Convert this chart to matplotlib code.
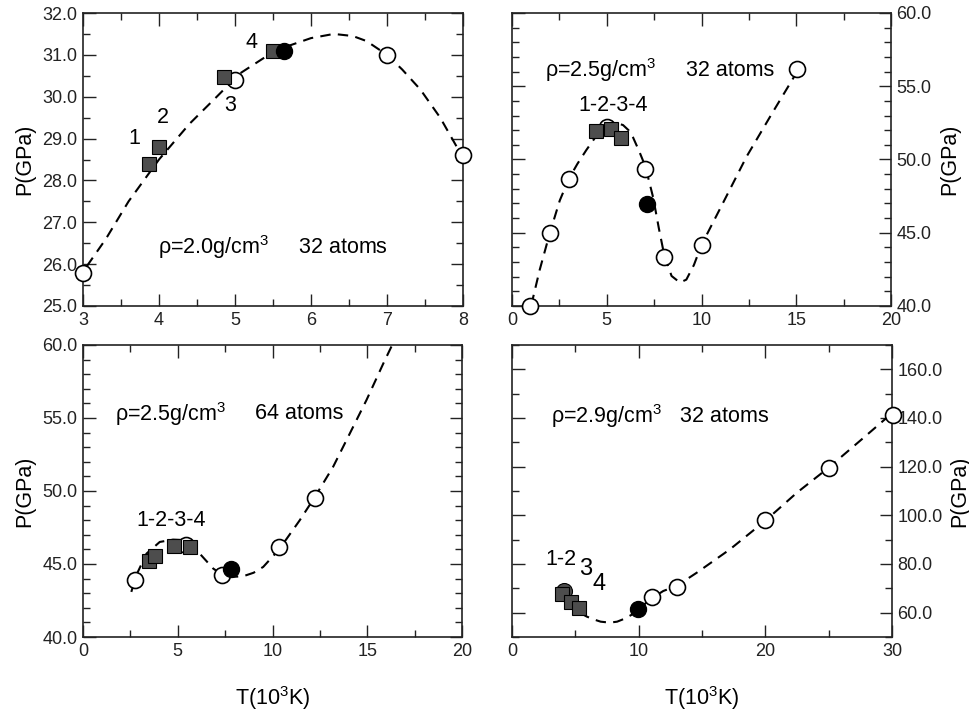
import numpy as np
import matplotlib.pyplot as plt
from matplotlib.ticker import MultipleLocator, FormatStrFormatter

plt.rcParams['font.family'] = ['Liberation Sans', 'DejaVu Sans']
plt.rcParams['mathtext.fontset'] = 'custom'
plt.rcParams['mathtext.rm'] = 'Liberation Sans'
plt.rcParams['mathtext.it'] = 'Liberation Sans'

# ---- panel a: rho=2.0, 32 atoms
a_open_T = [3.0, 5.0, 7.0, 8.0]
a_open_P = [25.8, 30.4, 31.0, 28.6]
a_sq_T = [3.87, 4.0, 4.85, 5.5]
a_sq_P = [28.4, 28.8, 30.47, 31.1]
a_fill_T = [5.65]
a_fill_P = [31.1]
a_fit_T = [3.05, 3.3, 3.6, 4.0, 4.4, 4.76, 5.06, 5.4, 5.68, 6.0, 6.3, 6.55, 6.73, 7.0, 7.2, 7.44, 7.7, 7.95]
a_fit_P = [25.95, 26.6, 27.5, 28.5, 29.35, 30.0, 30.55, 30.95, 31.2, 31.4, 31.5, 31.45, 31.33, 31.0, 30.65, 30.17, 29.5, 28.7]

# ---- panel b: rho=2.5, 32 atoms
b_open_T = [0.97, 2.0, 3.0, 5.0, 7.04, 8.03, 10.0, 15.05]
b_open_P = [40.0, 45.0, 48.7, 52.25, 49.36, 43.37, 44.17, 56.17]
b_sq_T = [4.45, 5.25, 5.74]
b_sq_P = [51.96, 52.07, 51.5]
b_fill_T = [7.15]
b_fill_P = [46.97]
b_fit_T = [1.02, 1.46, 2.0, 2.52, 3.0, 3.45, 3.93, 4.5, 5.02, 5.5, 5.86, 6.15, 6.39, 6.7, 7.04, 7.45, 7.75, 8.03, 8.42, 8.86, 9.2, 9.6, 10.0, 11.2, 12.38, 13.7, 15.05]
b_fit_P = [40.07, 42.46, 45.0, 47.2, 48.68, 49.7, 50.66, 51.7, 52.37, 52.5, 52.35, 52.0, 51.5, 50.6, 49.52, 47.4, 45.3, 43.5, 42.05, 41.6, 41.8, 42.8, 44.17, 47.2, 50.2, 53.1, 56.0]

# ---- panel c: rho=2.5, 64 atoms
c_open_T = [2.73, 5.46, 7.36, 10.35, 12.24]
c_open_P = [43.89, 46.29, 44.23, 46.17, 49.49]
c_sq_T = [3.47, 3.8, 4.81, 5.67]
c_sq_P = [45.21, 45.53, 46.22, 46.17]
c_fill_T = [7.83]
c_fill_P = [44.69]
c_fit_T = [2.55, 2.8, 3.35, 4.05, 4.75, 5.46, 6.16, 6.87, 7.3, 7.75, 8.45, 9.0, 9.51, 10.35, 11.44, 12.24, 13.2, 14.08, 14.96, 15.85, 16.5]
c_fit_P = [43.09, 44.2, 45.71, 46.51, 46.67, 46.63, 45.71, 44.69, 44.3, 44.11, 44.16, 44.4, 44.8, 46.0, 48.0, 49.6, 51.66, 53.94, 56.23, 58.74, 60.5]

# ---- panel d: rho=2.9, 32 atoms
d_open_T = [11.02, 13.0, 19.98, 25.0, 30.05]
d_open_P = [66.6, 70.5, 98.1, 119.6, 141.1]
d_grey_T = [4.09]
d_grey_P = [68.9]
d_sq_T = [3.98, 4.69, 5.25]
d_sq_P = [67.5, 64.4, 61.9]
d_fill_T = [9.97]
d_fill_P = [61.4]
d_fit_T = [5.35, 5.9, 6.41, 7.0, 7.72, 8.3, 8.78, 9.4, 9.97, 11.0, 11.94, 13.0, 14.58, 17.2, 19.98, 22.49, 25.0, 27.76, 30.05]
d_fit_P = [60.0, 58.4, 57.3, 56.3, 55.9, 56.3, 57.3, 59.0, 61.4, 65.8, 68.9, 71.0, 76.4, 86.0, 97.7, 109.3, 119.6, 131.9, 142.2]

W, H = 969, 719
fig = plt.figure(figsize=(W / 100, H / 100), dpi=100)


def box(l, t, r, b):
    return [l / W, 1 - b / H, (r - l) / W, (b - t) / H]


def setup(ax, xlim, ylim, xmaj, xmin, ymaj, ymin, right=False):
    ax.set_xlim(*xlim)
    ax.set_ylim(*ylim)
    ax.xaxis.set_major_locator(MultipleLocator(xmaj))
    ax.xaxis.set_minor_locator(MultipleLocator(xmin))
    ax.yaxis.set_major_locator(MultipleLocator(ymaj))
    ax.yaxis.set_minor_locator(MultipleLocator(ymin))
    ax.yaxis.set_major_formatter(FormatStrFormatter('%.1f'))
    ax.tick_params(which='both', direction='in', top=True, right=True, left=True,
                   labelsize=13, width=1.0, colors='#222222')
    ax.tick_params(which='major', length=9, pad=4)
    ax.tick_params(which='minor', length=5)
    if right:
        ax.tick_params(axis='y', labelleft=False, labelright=True)
        ax.yaxis.set_label_position('right')
    for s in ax.spines.values():
        s.set_linewidth(1.2)
        s.set_color('#222222')
    ax.set_ylabel('P(GPa)', fontsize=15.5, labelpad=5)


def draw(ax, fT, fP, oT, oP, sT, sP, cT, cP):
    ax.plot(fT, fP, '--', color='black', lw=1.5, dashes=(5, 3.5), zorder=2)
    ax.plot(oT, oP, 'o', ms=11.5, mfc='white', mec='black', mew=1.2, zorder=3, clip_on=False)
    ax.plot(sT, sP, 's', ms=10.5, mfc='#4d4d4d', mec='black', mew=0.8, zorder=4, clip_on=False)
    ax.plot(cT, cP, 'o', ms=11.5, mfc='black', mec='black', zorder=5, clip_on=False)


fs = 15.5

ax1 = fig.add_axes(box(83, 13, 463, 306))
setup(ax1, (3, 8), (25, 32), 1, 0.5, 1.0, 0.5)
draw(ax1, a_fit_T, a_fit_P, a_open_T, a_open_P, a_sq_T, a_sq_P, a_fill_T, a_fill_P)
ax1.text(3.68, 29.0, '1', fontsize=fs, ha='center', va='center')
ax1.text(4.05, 29.5, '2', fontsize=fs, ha='center', va='center')
ax1.text(4.93, 29.8, '3', fontsize=fs, ha='center', va='center')
ax1.text(5.22, 31.3, '4', fontsize=fs, ha='center', va='center')
ax1.text(3.99, 26.4, 'ρ=2.0g/cm$^3$     32 atoms', fontsize=fs, ha='left', va='center')

ax2 = fig.add_axes(box(512, 13, 891, 306))
setup(ax2, (0, 20), (40, 60), 5, 2.5, 5.0, 1.0, right=True)
draw(ax2, b_fit_T, b_fit_P, b_open_T, b_open_P, b_sq_T, b_sq_P, b_fill_T, b_fill_P)
ax2.text(1.72, 56.1, 'ρ=2.5g/cm$^3$', fontsize=fs, ha='left', va='center')
ax2.text(9.2, 56.1, '32 atoms', fontsize=fs, ha='left', va='center')
ax2.text(5.33, 53.67, '1-2-3-4', fontsize=fs, ha='center', va='center')

ax3 = fig.add_axes(box(83, 345, 462, 637))
setup(ax3, (0, 20), (40, 60), 5, 2.5, 5.0, 1.0)
draw(ax3, c_fit_T, c_fit_P, c_open_T, c_open_P, c_sq_T, c_sq_P, c_fill_T, c_fill_P)
ax3.text(1.67, 55.3, 'ρ=2.5g/cm$^3$', fontsize=fs, ha='left', va='center')
ax3.text(9.07, 55.3, '64 atoms', fontsize=fs, ha='left', va='center')
ax3.text(4.67, 48.0, '1-2-3-4', fontsize=fs, ha='center', va='center')
ax3.set_xlabel('T(10$^3$K)', fontsize=15.5, labelpad=18)

ax4 = fig.add_axes(box(512, 345, 892, 637))
setup(ax4, (0, 30), (50, 170), 10, 5, 20.0, 10.0, right=True)
ax4.plot(d_grey_T, d_grey_P, 'o', ms=11.5, mfc='#4d4d4d', mec='black', mew=0.8, zorder=3)
draw(ax4, d_fit_T, d_fit_P, d_open_T, d_open_P, d_sq_T, d_sq_P, d_fill_T, d_fill_P)
ax4.text(3.1, 141.0, 'ρ=2.9g/cm$^3$   32 atoms', fontsize=fs, ha='left', va='center')
ax4.text(3.9, 81.9, '1-2', fontsize=fs, ha='center', va='center')
ax4.text(5.83, 78.1, '3', fontsize=17, ha='center', va='center')
ax4.text(6.85, 71.6, '4', fontsize=17, ha='center', va='center')
ax4.set_xlabel('T(10$^3$K)', fontsize=15.5, labelpad=18)

fig.savefig('out.png', dpi=100)
